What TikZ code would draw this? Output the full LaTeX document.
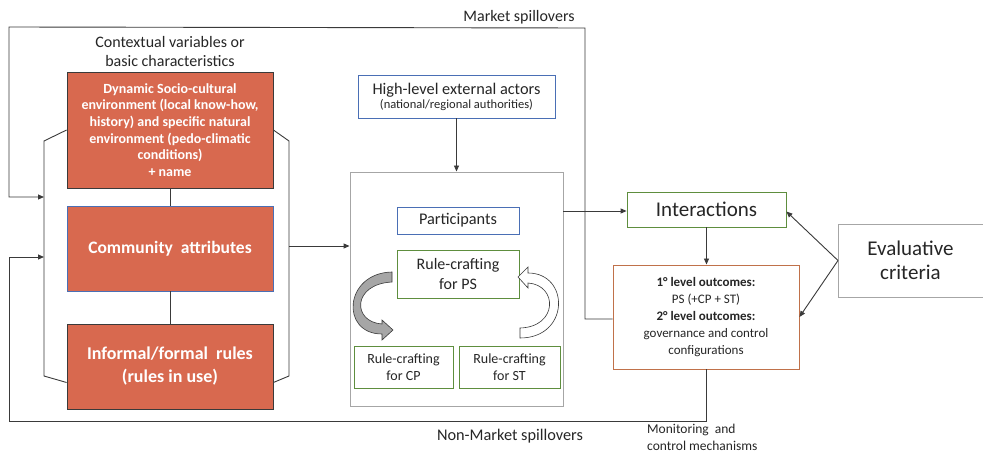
\documentclass[tikz,border=0pt]{standalone}
\usepackage{fontspec}
\setmainfont{Carlito}
\usetikzlibrary{arrows.meta,calc}
\definecolor{orangefill}{HTML}{D8694F}
\definecolor{blueb}{HTML}{4A6FB5}
\definecolor{greenb}{HTML}{5E8E3E}
\definecolor{brownb}{HTML}{C0714A}
\definecolor{grayb}{HTML}{A6A6A6}
\definecolor{txt}{HTML}{262626}
\definecolor{linec}{HTML}{3A3A3A}
\tikzset{
  box/.style={rectangle, inner sep=0pt, align=center, text=txt},
  orangebox/.style={box, fill=orangefill, draw=linec, line width=0.8pt, text=white, font=\bfseries},
  conn/.style={draw=linec, line width=0.9pt},
  arr/.style={conn, -{Triangle[length=6pt,width=5pt]}},
  lbl/.style={inner sep=0pt, align=center, text=txt},
}
\begin{document}
\begin{tikzpicture}[x=1pt,y=-1pt]
\useasboundingbox (0,0) rectangle (983,457);
\fill[white] (0,0) rectangle (983,457);
\clip (0,0) rectangle (983,457);

% left boxes
\node[orangebox, minimum width=206pt, minimum height=116pt, font=\bfseries\fontsize{14}{16.7}\selectfont] (b1) at (170,130)
 {Dynamic Socio-cultural\\environment (local know-how,\\history) and specific natural\\environment (pedo-climatic\\conditions)\\+ name};
\node[orangebox, draw=blueb, minimum width=206pt, minimum height=85pt, font=\bfseries\fontsize{17.5}{20}\selectfont] (b2) at (170,248.5)
 {Community\ \ attributes};
\node[orangebox, minimum width=206pt, minimum height=85pt, font=\bfseries\fontsize{18}{23}\selectfont] (b3) at (170,366.5)
 {Informal/formal\ \ rules\\(rules in use)};

\node[lbl, font=\fontsize{16}{19}\selectfont] (ctx) at (170,52) {Contextual variables or\\basic characteristics};

% centre
\node[box, draw=blueb, line width=0.8pt, minimum width=197pt, minimum height=43pt] (hl) at (456.5,96.5)
 {\fontsize{16.3}{17}\selectfont High-level external actors\\[2pt]{\fontsize{12.5}{13}\selectfont (national/regional authorities)}};
\node[box, draw=grayb, line width=0.9pt, minimum width=213pt, minimum height=234pt] (cont) at (456.5,289) {};
\node[box, draw=blueb, line width=0.8pt, minimum width=122pt, minimum height=27pt, font=\fontsize{16.3}{18}\selectfont] (part) at (458,220.5) {Participants};
\node[box, draw=greenb, line width=0.8pt, minimum width=122pt, minimum height=48pt, font=\fontsize{16}{20}\selectfont] (ps) at (458,274) {Rule-crafting\\for PS};
\node[box, draw=greenb, line width=0.8pt, minimum width=99pt, minimum height=42pt, font=\fontsize{14}{16.5}\selectfont] (cp) at (403.5,367) {Rule-crafting\\for CP};
\node[box, draw=greenb, line width=0.8pt, minimum width=101pt, minimum height=42pt, font=\fontsize{14}{16.5}\selectfont] (st) at (509.5,367) {Rule-crafting\\for ST};

% curved arrows
\filldraw[fill=grayb, draw=linec, line width=0.6pt]
 (392,272) .. controls (344,273) and (340,334) .. (382,334) -- (382,340) -- (393,330) -- (382,320) -- (382,324)
 .. controls (352,322) and (352,284) .. (392,282) -- cycle;
\filldraw[fill=white, draw=linec, line width=0.6pt]
 (520,338) .. controls (570,338) and (570,273) .. (528,273) -- (528,267) -- (518,277) -- (528,288) -- (528,283)
 .. controls (558,285) and (558,327) .. (520,328) -- cycle;

% right side
\node[box, draw=greenb, line width=0.8pt, minimum width=159pt, minimum height=35pt, font=\fontsize{21}{22}\selectfont] (inter) at (706.5,209.5) {Interactions};
\node[box, draw=brownb, line width=0.9pt, minimum width=186pt, minimum height=104pt, font=\fontsize{13}{16.8}\selectfont] (out) at (706,317)
 {\textbf{1° level outcomes:}\\PS (+CP + ST)\\\textbf{2° level outcomes:}\\governance and control\\configurations};
\node[box, draw=grayb, line width=0.9pt, minimum width=152pt, minimum height=73pt, anchor=west, font=\fontsize{21}{24}\selectfont, text width=152pt] (eval) at (838,260.5)
 {\hspace*{-8pt}Evaluative\\\hspace*{-8pt}criteria};

% labels
\node[lbl, font=\fontsize{16}{17}\selectfont] (mkt) at (519,17) {Market spillovers};
\node[lbl, font=\fontsize{16.3}{18}\selectfont] (nmkt) at (510,436) {Non-Market spillovers};
\node[lbl, anchor=north west, align=left, font=\fontsize{13.5}{17}\selectfont] (mon) at (647,424) {Monitoring\ \ and\\control mechanisms};

% connectors between left boxes
\draw[conn] (b1.south) -- (b2.north);
\draw[conn] (b2.south) -- (b3.north);
\coordinate (lbt) at (44,141);
\coordinate (lbb) at (44,376);
\coordinate (rbt) at (289,141);
\coordinate (rbb) at (289,376);
\draw[conn] (b1.west) -- (lbt) -- (lbb) -- ([yshift=-16pt]b3.west);
\draw[conn] (b1.east) -- (rbt) -- (rbb) -- ([yshift=-16pt]b3.east);
\coordinate (rbm) at (289,246);
\draw[arr] (rbm) -- (rbm -| cont.west);

% centre arrows
\draw[arr] (hl.south) -- (cont.north);
\draw[arr] ([yshift=-1.5pt]inter.west -| cont.east) -- ([yshift=-1.5pt]inter.west);
\draw[arr] (inter.south) -- (inter.south |- out.north);
\draw[arr] (eval.west) -- ([yshift=-2pt]inter.east);
\draw[arr] (eval.west) -- (out.east);

% spillovers
\coordinate (lm) at (44,197);
\coordinate (ln) at (44,257);
\draw[arr] ([yshift=-2pt]out.west) -- (585,319) -- (585,28) -- (9,27) -- (9,197) -- (lm);
\draw[arr] (out.south) -- (706,421) -- (9,421) -- (9,257) -- (ln);
\end{tikzpicture}
\end{document}
